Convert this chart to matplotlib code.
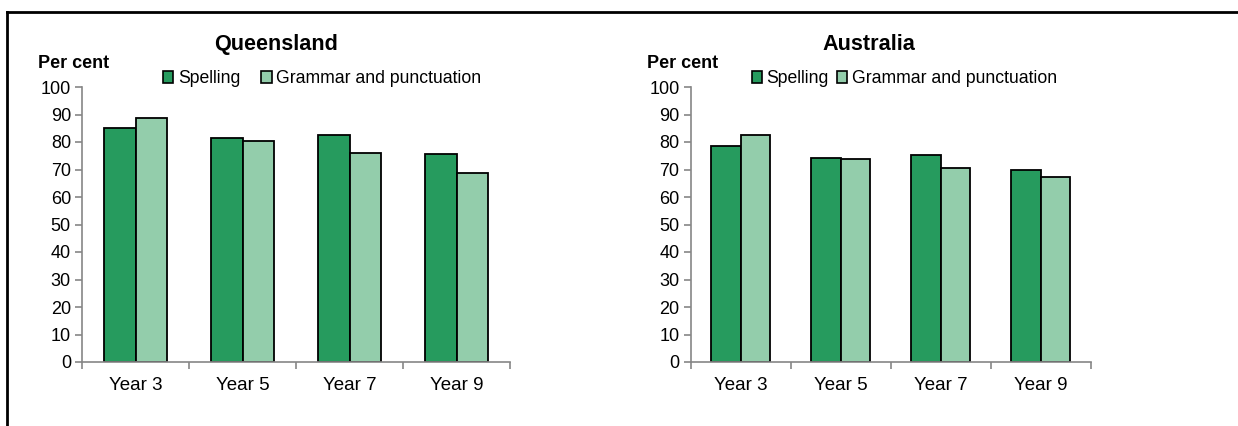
import numpy as np
import matplotlib
matplotlib.use("Agg")
import matplotlib.pyplot as plt
from matplotlib.patches import Patch
from matplotlib.lines import Line2D

plt.rcParams['font.family'] = ['Liberation Sans', 'DejaVu Sans']

years = ["Year 3", "Year 5", "Year 7", "Year 9"]
qld_spelling = [85.1, 81.5, 82.7, 75.8]
qld_grammar = [88.6, 80.2, 76.1, 68.8]
aus_spelling = [78.4, 74.1, 75.3, 69.9]
aus_grammar = [82.5, 73.8, 70.4, 67.2]

dark = "#269B5E"
light = "#93CDAB"
axis_grey = "#868686"

fig = plt.figure(figsize=(12.38, 4.26), dpi=100)

# border lines (top and left)
fig.add_artist(Line2D([7 / 1238, 7 / 1238], [0, 1 - 12 / 426], color="black", lw=2))
fig.add_artist(Line2D([7 / 1238, 1], [1 - 12 / 426, 1 - 12 / 426], color="black", lw=2))


def panel(rect, spelling, grammar, title, title_x, leg_x, colspace, percent_x):
    ax = fig.add_axes(rect)
    x = np.arange(len(years)) + 0.5
    w = 0.295
    ax.bar(x - w / 2, spelling, w, color=dark, edgecolor="black", linewidth=1.3)
    ax.bar(x + w / 2, grammar, w, color=light, edgecolor="black", linewidth=1.3)
    ax.set_xlim(0, 4)
    ax.set_ylim(0, 100)
    ax.set_yticks(range(0, 101, 10))
    ax.set_xticks(range(0, 5))
    ax.set_xticklabels([])
    ax.set_xticks(x, minor=True)
    ax.set_xticklabels(years, minor=True)
    ax.tick_params(axis="x", which="minor", length=0, pad=11, labelsize=13.5)
    ax.tick_params(axis="x", which="major", length=5, color=axis_grey, width=1.2)
    ax.tick_params(axis="y", length=5, color=axis_grey, width=1.2, labelsize=13, pad=3)
    for s in ["top", "right"]:
        ax.spines[s].set_visible(False)
    for s in ["left", "bottom"]:
        ax.spines[s].set_color(axis_grey)
        ax.spines[s].set_linewidth(1.2)
    ax.text(title_x, 1.153, title, transform=ax.transAxes, ha="center", va="center",
            fontsize=15.6, fontweight="bold")
    handles = [Patch(facecolor=dark, edgecolor="black", linewidth=1.2),
               Patch(facecolor=light, edgecolor="black", linewidth=1.2)]
    ax.legend(handles, ["Spelling", "Grammar and punctuation"], ncol=2, frameon=False,
              loc="center left", bbox_to_anchor=(leg_x, 1.03), fontsize=12.7,
              handlelength=0.6, handleheight=0.6, handletextpad=0.25,
              columnspacing=colspace, borderpad=0, borderaxespad=0)
    fig.text(percent_x / 1238, 1 - 63 / 426, "Per cent", ha="left", va="center",
             fontsize=13, fontweight="bold")
    return ax


panel([82 / 1238, 64 / 426, 428 / 1238, 275 / 426], qld_spelling, qld_grammar,
      "Queensland", 0.453, 0.189, 1.2, 38)
panel([690.7 / 1238, 64 / 426, 400 / 1238, 275 / 426], aus_spelling, aus_grammar,
      "Australia", 0.446, 0.152, 0.45, 647)

fig.savefig("out.png", dpi=100)
